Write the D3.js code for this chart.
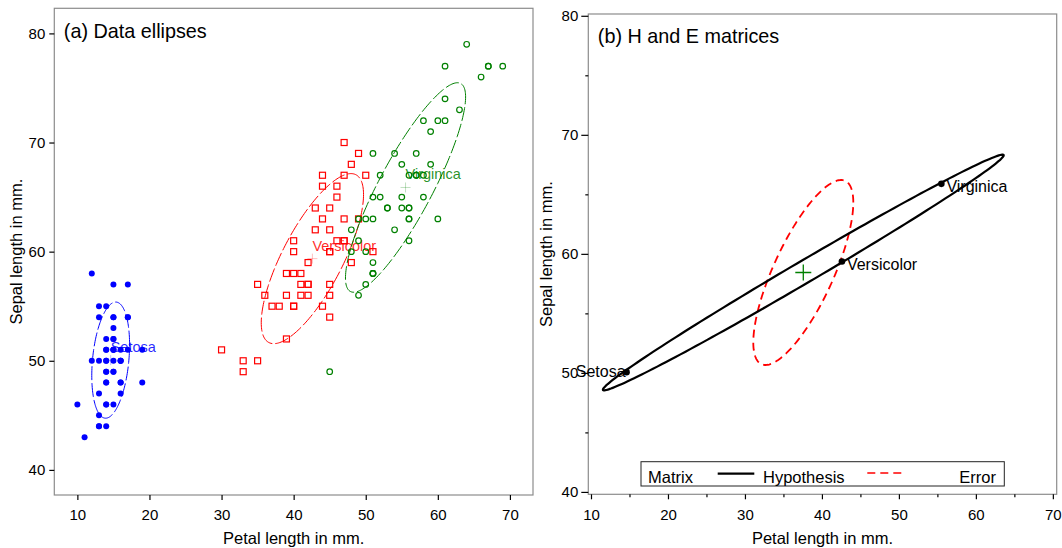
<!DOCTYPE html>
<html>
<head>
<meta charset="utf-8">
<script src="https://cdn.jsdelivr.net/npm/d3@7"></script>
<style>
body { margin: 0; background: #fff; }
svg text { font-family: "Liberation Sans", Arial, Helvetica, sans-serif; }
</style>
</head>
<body>
<div id="main"></div>
<script>
// iris data, in mm (petal length, sepal length)
var species = ["Setosa", "Versicolor", "Virginica"];
var setosaPetal = [14,14,13,15,14,17,14,15,14,15,15,16,14,11,12,15,13,14,17,15,17,15,10,17,19,16,16,15,14,16,16,15,15,14,15,12,13,14,13,15,13,13,13,16,19,14,16,14,15,14];
var setosaSepal = [51,49,47,46,50,54,46,50,44,49,54,48,48,43,58,57,54,51,57,51,54,51,46,51,48,50,50,52,52,47,48,54,52,55,49,50,55,49,44,51,50,45,44,50,51,48,51,46,53,50];
var versicolorPetal = [47,45,49,40,46,45,47,33,46,39,35,42,40,47,36,44,45,41,45,39,48,40,49,47,43,44,48,50,45,35,38,37,39,51,45,45,47,44,41,40,44,46,40,33,42,42,42,43,30,41];
var versicolorSepal = [70,64,69,55,65,57,63,49,66,52,50,59,60,61,56,67,56,58,62,56,59,61,63,61,64,66,68,67,60,57,55,55,58,60,54,60,67,63,56,55,55,61,58,50,56,57,57,62,51,57];
var virginicaPetal = [60,51,59,56,58,66,45,63,58,61,51,53,55,50,51,53,55,67,69,50,57,49,67,49,57,60,48,49,56,58,61,64,56,51,56,61,56,55,48,54,56,51,51,59,57,52,50,52,54,51];
var virginicaSepal = [63,58,71,63,65,76,49,73,67,72,65,64,68,57,58,64,65,77,77,60,69,56,77,63,67,72,62,61,64,72,74,79,64,63,61,77,63,64,60,69,67,69,58,68,67,67,63,65,62,59];

var xTicks = [10,20,30,40,50,60,70];
var yTicks = [40,50,60,70,80];
var xMinor = [15,25,35,45,55,65];
var yMinor = [45,55,65,75];
var legendLabels = ["Matrix", "Hypothesis", "Error"];
var coverage = 0.68;

var colors = ["#0000ff", "#ff0000", "#008000"];
var frameColor = "#8c8c8c";

var groups = [
  {name: species[0], petal: setosaPetal, sepal: setosaSepal},
  {name: species[1], petal: versicolorPetal, sepal: versicolorSepal},
  {name: species[2], petal: virginicaPetal, sepal: virginicaSepal}
];

// stats
function cov(a, b) {
  var ma = d3.mean(a), mb = d3.mean(b), s = 0;
  for (var i = 0; i < a.length; i++) s += (a[i] - ma) * (b[i] - mb);
  return s / (a.length - 1);
}
groups.forEach(function(g) {
  g.n = g.petal.length;
  g.mx = d3.mean(g.petal);
  g.my = d3.mean(g.sepal);
  g.S = [cov(g.petal, g.petal), cov(g.petal, g.sepal), cov(g.sepal, g.sepal)];
});
var N = d3.sum(groups, function(g) { return g.n; });
var dfe = N - groups.length;
var gmx = d3.sum(groups, function(g) { return g.n * g.mx; }) / N;
var gmy = d3.sum(groups, function(g) { return g.n * g.my; }) / N;
var Emat = [0, 0, 0], Hmat = [0, 0, 0];
groups.forEach(function(g) {
  for (var k = 0; k < 3; k++) Emat[k] += g.S[k] * (g.n - 1) / dfe;
  var dx = g.mx - gmx, dy = g.my - gmy;
  Hmat[0] += g.n * dx * dx / dfe;
  Hmat[1] += g.n * dx * dy / dfe;
  Hmat[2] += g.n * dy * dy / dfe;
});
var crad = Math.sqrt(-2 * Math.log(1 - coverage));

function ellipse(cx, cy, M) {
  var l11 = Math.sqrt(M[0]), l21 = M[1] / l11, l22 = Math.sqrt(M[2] - l21 * l21);
  return d3.range(0, 200).map(function(i) {
    var t = i / 200 * 2 * Math.PI;
    return [cx + crad * l11 * Math.cos(t), cy + crad * (l21 * Math.cos(t) + l22 * Math.sin(t))];
  });
}

var svg = d3.select("#main").append("svg")
    .attr("width", 1062)
    .attr("height", 548);

function drawAxes(x, y, opt) {
  var r = x.range(), rb = y.range();
  svg.append("rect")
      .attr("x", r[0]).attr("y", rb[1])
      .attr("width", r[1] - r[0]).attr("height", rb[0] - rb[1])
      .attr("fill", "none").attr("stroke", frameColor).attr("stroke-width", 1.2);
  var gx = svg.append("g")
      .attr("transform", "translate(0," + rb[0] + ")")
      .call(d3.axisBottom(x).tickValues(xTicks).tickSize(5).tickPadding(opt.xpad));
  var gy = svg.append("g")
      .attr("transform", "translate(" + r[0] + ",0)")
      .call(d3.axisLeft(y).tickValues(yTicks).tickSize(opt.ysize).tickPadding(opt.ypad));
  [gx, gy].forEach(function(g) {
    g.select(".domain").remove();
    g.selectAll("line").attr("stroke", "#000").attr("stroke-width", 1.2);
    g.selectAll("text").attr("font-size", 15).attr("fill", "#000")
      .style("font-family", '"Liberation Sans", Arial, sans-serif');
  });
  if (opt.minor) {
    var mx = svg.append("g")
        .attr("transform", "translate(0," + rb[0] + ")")
        .call(d3.axisBottom(x).tickValues(xMinor).tickSize(3).tickFormat(""));
    var my = svg.append("g")
        .attr("transform", "translate(" + r[0] + ",0)")
        .call(d3.axisLeft(y).tickValues(yMinor).tickSize(3).tickFormat(""));
    [mx, my].forEach(function(g) {
      g.select(".domain").remove();
      g.selectAll("line").attr("stroke", "#000").attr("stroke-width", 1.2);
    });
  }
  svg.append("text")
      .attr("x", (r[0] + r[1]) / 2).attr("y", 544)
      .attr("text-anchor", "middle").attr("font-size", 16.5)
      .text("Petal length in mm.");
  svg.append("text")
      .attr("transform", "translate(" + opt.ylabx + "," + (rb[0] + rb[1]) / 2 + ") rotate(-90)")
      .attr("text-anchor", "middle").attr("font-size", 16.5)
      .text("Sepal length in mm.");
  svg.append("text")
      .attr("x", r[0] + 9.5).attr("y", rb[1] + opt.titleDy)
      .attr("font-size", 19.8)
      .text(opt.title);
}

// ---------- panel (a)
var xa = d3.scaleLinear().domain([6.8, 73.2]).range([54.3, 533]);
var ya = d3.scaleLinear().domain([37.7, 82.3]).range([495, 8.3]);
drawAxes(xa, ya, {xpad: 9.5, ysize: 5, ypad: 4, ylabx: 22, title: "(a) Data ellipses", titleDy: 29.5});

var lineA = d3.line()
    .x(function(d) { return xa(d[0]); })
    .y(function(d) { return ya(d[1]); })
    .curve(d3.curveLinearClosed);

groups.forEach(function(g, gi) {
  var pts = g.petal.map(function(p, i) { return [p, g.sepal[i]]; });
  var col = colors[gi];
  var layer = svg.append("g");
  if (gi == 0) {
    layer.selectAll("circle").data(pts).enter().append("circle")
        .attr("cx", function(d) { return xa(d[0]); })
        .attr("cy", function(d) { return ya(d[1]); })
        .attr("r", 3).attr("fill", col);
  } else if (gi == 1) {
    layer.selectAll("rect").data(pts).enter().append("rect")
        .attr("x", function(d) { return xa(d[0]) - 3; })
        .attr("y", function(d) { return ya(d[1]) - 3; })
        .attr("width", 6).attr("height", 6)
        .attr("fill", "none").attr("stroke", col).attr("stroke-width", 1.2);
  } else {
    layer.selectAll("circle").data(pts).enter().append("circle")
        .attr("cx", function(d) { return xa(d[0]); })
        .attr("cy", function(d) { return ya(d[1]); })
        .attr("r", 2.8)
        .attr("fill", "none").attr("stroke", col).attr("stroke-width", 1.2);
  }
  svg.append("path")
      .attr("d", lineA(ellipse(g.mx, g.my, g.S)))
      .attr("fill", "none").attr("stroke", col).attr("stroke-width", 1)
      .attr("stroke-dasharray", "14,3");
  // faint mean cross
  var cx = xa(g.mx), cy = ya(g.my);
  svg.append("path")
      .attr("d", "M" + (cx - 5) + "," + cy + "H" + (cx + 5) + "M" + cx + "," + (cy - 5) + "V" + (cy + 5))
      .attr("stroke", col).attr("stroke-opacity", 0.25).attr("stroke-width", 1);
  svg.append("text")
      .attr("x", cx).attr("y", cy - 8)
      .attr("font-size", 14.5).attr("fill", col).attr("fill-opacity", 0.85)
      .text(g.name);
});

// ---------- panel (b)
var xb = d3.scaleLinear().domain([9.65, 70.5]).range([588.3, 1056.7]);
var yb = d3.scaleLinear().domain([39.8, 80.15]).range([494.3, 14]);
drawAxes(xb, yb, {xpad: 10, ysize: 7, ypad: 3, ylabx: 552, title: "(b) H and E matrices", titleDy: 29.3, minor: true});

var lineB = d3.line()
    .x(function(d) { return xb(d[0]); })
    .y(function(d) { return yb(d[1]); })
    .curve(d3.curveLinearClosed);

svg.append("path")
    .attr("d", lineB(ellipse(gmx, gmy, Emat)))
    .attr("fill", "none").attr("stroke", "#ff0000").attr("stroke-width", 1.8)
    .attr("stroke-dasharray", "8,5");
svg.append("path")
    .attr("d", lineB(ellipse(gmx, gmy, Hmat)))
    .attr("fill", "none").attr("stroke", "#000").attr("stroke-width", 2.2);

var gcx = xb(gmx), gcy = yb(gmy);
svg.append("path")
    .attr("d", "M" + (gcx - 8) + "," + gcy + "H" + (gcx + 8) + "M" + gcx + "," + (gcy - 8) + "V" + (gcy + 8))
    .attr("stroke", "#008000").attr("stroke-width", 1.3);

groups.forEach(function(g, gi) {
  var cx = xb(g.mx), cy = yb(g.my);
  svg.append("circle").attr("cx", cx).attr("cy", cy).attr("r", 3.3).attr("fill", "#000");
  svg.append("text")
      .attr("x", gi == 0 ? cx - 1 : cx + 5)
      .attr("y", gi == 0 ? cy + 5 : cy + 8.5)
      .attr("text-anchor", gi == 0 ? "end" : "start")
      .attr("font-size", 16)
      .text(g.name);
});

// legend
var lg = svg.append("g");
lg.append("rect")
    .attr("x", 641).attr("y", 461.7).attr("width", 363.3).attr("height", 24.3)
    .attr("fill", "#fff").attr("stroke", "#222").attr("stroke-width", 1);
lg.append("text").attr("x", 648).attr("y", 482.5).attr("font-size", 16.5).text(legendLabels[0]);
lg.append("line").attr("x1", 717.7).attr("x2", 754.3).attr("y1", 473.7).attr("y2", 473.7)
    .attr("stroke", "#000").attr("stroke-width", 2.2);
lg.append("text").attr("x", 763).attr("y", 482.5).attr("font-size", 16.5).text(legendLabels[1]);
lg.append("line").attr("x1", 867.3).attr("x2", 901.7).attr("y1", 473).attr("y2", 473)
    .attr("stroke", "#ff0000").attr("stroke-width", 1.5).attr("stroke-dasharray", "8,5");
lg.append("text").attr("x", 996).attr("y", 482.5).attr("font-size", 16.5)
    .attr("text-anchor", "end").text(legendLabels[2]);
</script>
</body>
</html>
